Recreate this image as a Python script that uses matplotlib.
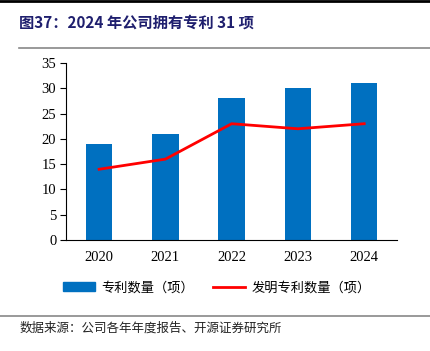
import matplotlib
matplotlib.use("Agg")
import matplotlib.pyplot as plt
from matplotlib.lines import Line2D

years = ["2020", "2021", "2022", "2023", "2024"]
patents = [19, 21, 28, 30, 31]
invention_patents = [14, 16, 23, 22, 23]
yticks = [0, 5, 10, 15, 20, 25, 30, 35]

cjk = ["Noto Sans CJK SC", "DejaVu Sans"]
serif = ["Liberation Serif", "DejaVu Serif"]

fig = plt.figure(figsize=(4.30, 3.51), dpi=100)
ax = fig.add_axes([0.1535, 0.316, 0.7705, 0.5045])

x = list(range(len(years)))
ax.bar(x, patents, width=0.4, color="#0070C0", label="专利数量（项）", zorder=2)
ax.plot(x, invention_patents, color="#FF0000", lw=2, label="发明专利数量（项）", zorder=3)

ax.set_xlim(-0.5, 4.5)
ax.set_ylim(0, 35)
ax.set_yticks(yticks)
ax.set_xticks(x)
ax.set_xticklabels(years)
for lab in ax.get_xticklabels() + ax.get_yticklabels():
    lab.set_fontfamily(serif)
    lab.set_fontsize(10.5)
ax.tick_params(axis="x", length=0, pad=8)
ax.tick_params(axis="y", length=4, direction="out", pad=3)
ax.spines["top"].set_visible(False)
ax.spines["right"].set_visible(False)

handles = [
    plt.Rectangle((0, 0), 1, 1, color="#0070C0"),
    Line2D([0], [0], color="#FF0000", lw=2),
]
fig.legend(handles, ["专利数量（项）", "发明专利数量（项）"], loc="center left",
           bbox_to_anchor=(0.12, 0.18), ncol=2, frameon=False,
           prop={"family": cjk, "size": 9.5}, handlelength=2.4, columnspacing=1.4,
           handletextpad=0.5)

# title and rules
fig.text(0.045, 0.935, "图37：2024 年公司拥有专利 31 项", fontsize=11, fontweight="bold",
         color="#1F1F6E", family=cjk, va="center")
fig.add_artist(Line2D([0, 1], [0.997, 0.997], color="black", lw=2, transform=fig.transFigure))
fig.add_artist(Line2D([0.045, 1], [0.862, 0.862], color="#888888", lw=1.2, transform=fig.transFigure))
fig.add_artist(Line2D([0, 1], [0.1, 0.1], color="#888888", lw=1.2, transform=fig.transFigure))
fig.text(0.045, 0.065, "数据来源：公司各年年度报告、开源证券研究所", fontsize=9, color="#222222",
         family=cjk, va="center")

fig.savefig("out.png", dpi=100)
